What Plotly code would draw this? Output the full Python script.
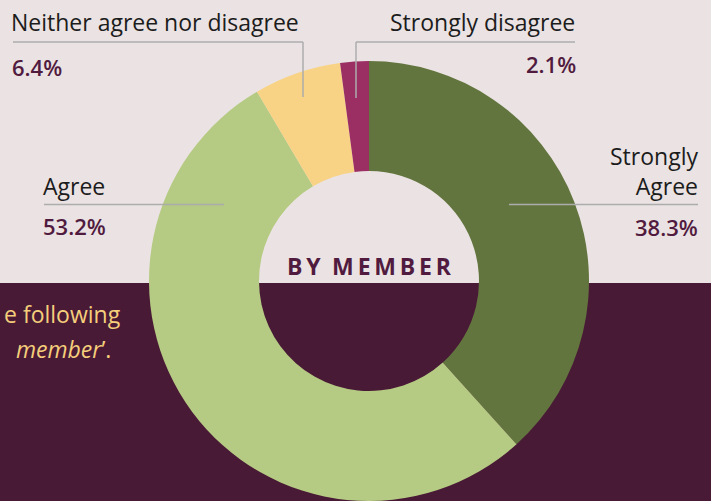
import plotly.graph_objects as go

labels = ["Strongly Agree", "Agree", "Neither agree nor disagree", "Strongly disagree"]
values = [38.3, 53.2, 6.4, 2.1]
colors = ["#63753f", "#b5ca82", "#f8d385", "#9b2e63"]
pct_text = ["38.3%", "53.2%", "6.4%", "2.1%"]

W, H = 711, 501
BG_TOP = "#ebe3e3"
BG_BOT = "#491a36"
PCT_COL = "#511b40"
LBL_COL = "#1c1c1c"
LINE_COL = "#acacac"
FONT = "Open Sans"

def px(x):
    return x / W

def py(y):
    return 1 - y / H

fig = go.Figure()
fig.add_trace(go.Pie(
    labels=labels, values=values, marker=dict(colors=colors, line=dict(width=0)),
    hole=0.5, sort=False, direction="clockwise", rotation=0,
    textinfo="none", hoverinfo="label+percent", showlegend=False,
    domain=dict(x=[px(149), px(589)], y=[0, py(61)]),
))

shapes = [
    dict(type="rect", xref="paper", yref="paper", x0=0, x1=1, y0=py(283), y1=1,
         fillcolor=BG_TOP, line=dict(width=0), layer="below"),
]
line = dict(color=LINE_COL, width=1.5)
segs = [
    (13, 42, 303, 42), (303, 42, 303, 97),
    (356, 42, 575, 42), (356, 42, 356, 98),
    (44, 204.5, 224, 204.5),
    (509, 204.5, 698, 204.5),
]
for x0, y0, x1, y1 in segs:
    shapes.append(dict(type="line", xref="paper", yref="paper",
                       x0=px(x0), y0=py(y0), x1=px(x1), y1=py(y1), line=line, layer="above"))

annotations = []
def ann(text, x, y, xanchor, size, color, weight="normal", align="left"):
    annotations.append(dict(
        text=text, x=px(x), y=py(y), xref="paper", yref="paper",
        xanchor=xanchor, yanchor="middle", showarrow=False, align=align,
        font=dict(family=FONT, size=size, color=color, weight=weight)))

LS = 23
PS = 22
ann(labels[2], 9, 22, "left", LS, LBL_COL)
ann(pct_text[2], 10, 67, "left", PS, PCT_COL, weight=600)
ann(labels[3], 577, 22, "right", LS, LBL_COL)
ann(pct_text[3], 578, 64, "right", PS, PCT_COL, weight=600)
ann("Agree", 41, 186, "left", LS, LBL_COL)
ann(pct_text[1], 41, 226, "left", PS, PCT_COL, weight=600)
ann("Strongly<br>Agree", 700, 171, "right", LS, LBL_COL, align="right")
ann(pct_text[0], 700, 227, "right", PS, PCT_COL, weight=600)
ann("B Y\u2002M E M B E R".replace(" ", "\u2009"), 369, 266, "center", 23, PCT_COL, weight="bold")
ann("e following", 123, 314, "right", LS, "#f5cf7b")
ann("<i>member</i>\u2019.", 113, 349, "right", LS, "#f5cf7b")

fig.update_layout(
    width=W, height=H, margin=dict(l=0, r=0, t=0, b=0),
    paper_bgcolor=BG_BOT, plot_bgcolor=BG_BOT,
    shapes=shapes, annotations=annotations,
)
fig.write_html("out.html", config={"displayModeBar": False},
               post_script="document.body.style.margin='0';document.body.style.padding='0';")
